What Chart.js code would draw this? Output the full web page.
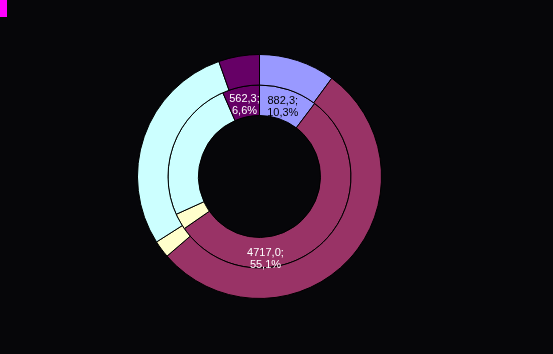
<!DOCTYPE html>
<html>
<head>
<meta charset="utf-8">
<script src="https://cdn.jsdelivr.net/npm/chart.js@4"></script>
<style>
  html, body { margin: 0; padding: 0; background: #060609; }
  #wrap { position: relative; width: 553px; height: 354px; }
  #mark { position: absolute; left: 0; top: 0; width: 7px; height: 17px; background: #ff00ff; }
</style>
</head>
<body>
<div id="wrap">
  <canvas id="c" width="553" height="354"></canvas>
  <div id="mark"></div>
</div>
<script>
// kategoriat ja arvot
const categories = ['A', 'B', 'C', 'D', 'E'];
const outerValues = [865, 4590, 197, 2450, 463];          // ulkorengas
const innerValues = [882.3, 4717.0, 245, 2160, 562.3];    // sisärengas
const innerLabels = ['882,3;|10,3%', '4717,0;|55,1%', '', '', '562,3;|6,6%'];
const colors = ['#9999ff', '#993366', '#ffffcc', '#ccffff', '#660066'];
const labelColors = ['#000000', '#ffffff', '#000000', '#000000', '#ffffff'];

// missä kohtaa sektoria teksti on (osuus kulmasta)
const labelFrac = [0.5, 0.7, 0.5, 0.5, 0.5];

const labelPlugin = {
  id: 'innerLabels',
  afterDatasetsDraw(chart) {
    const ctx = chart.ctx;
    const meta = chart.getDatasetMeta(1);
    ctx.save();
    ctx.font = '11px "Liberation Sans", Arial, sans-serif';
    ctx.textAlign = 'center';
    ctx.textBaseline = 'middle';
    meta.data.forEach((arc, i) => {
      if (!innerLabels[i]) return;
      const p = arc.getProps(['x', 'y', 'startAngle', 'endAngle', 'innerRadius', 'outerRadius'], true);
      const a = p.startAngle + labelFrac[i] * (p.endAngle - p.startAngle);
      let r = (p.innerRadius + p.outerRadius) / 2 - 3;
      if (i === 1) r += 9;
      const x = p.x + Math.cos(a) * r;
      const y = p.y + Math.sin(a) * r;
      ctx.fillStyle = labelColors[i];
      const lines = innerLabels[i].split('|');
      ctx.fillText(lines[0], x, y - 6);
      ctx.fillText(lines[1], x, y + 6);
    });
    ctx.restore();
  }
};

const ctx = document.getElementById('c').getContext('2d');
const myChart = new Chart(ctx, {
  type: 'doughnut',
  data: {
    labels: categories,
    datasets: [
      {
        data: outerValues,
        backgroundColor: colors,
        borderColor: '#000000',
        borderWidth: 1
      },
      {
        data: innerValues,
        backgroundColor: colors,
        borderColor: '#000000',
        borderWidth: 1
      }
    ]
  },
  options: {
    responsive: false,
    animation: false,
    cutout: '50%',
    layout: {
      padding: { left: 137, right: 171, top: 54, bottom: 55 }
    },
    plugins: {
      legend: { display: false },
      tooltip: { enabled: false }
    }
  },
  plugins: [labelPlugin]
});
</script>
</body>
</html>
